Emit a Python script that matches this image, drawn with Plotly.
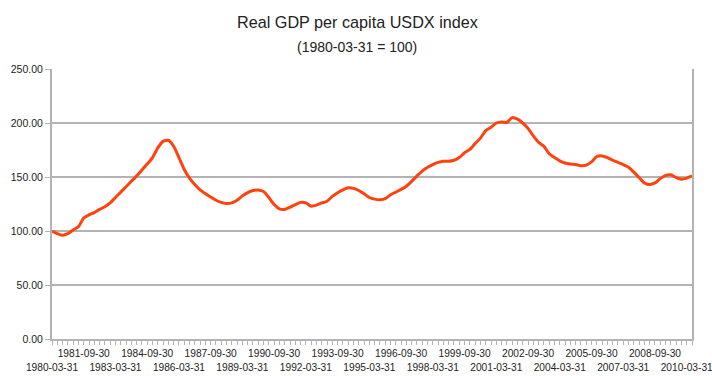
import plotly.graph_objects as go

# Quarterly categories 1980-03-31 .. 2010-06-30
quarter_ends = ["03-31", "06-30", "09-30", "12-31"]
quarters = [f"{y}-{q}" for y in range(1980, 2011) for q in quarter_ends][:122]

gdp_index = [
    100, 97.5, 96, 97.5, 101, 104, 112, 115, 117, 120,
    122.5, 126, 131, 136, 141, 146, 151, 156.5, 162, 168,
    177, 183, 184, 178.5, 168, 157, 149, 143, 138, 134.5,
    131.5, 128.5, 126.5, 125.5, 126, 128.5, 132.5, 135.5, 137.5, 138,
    136.5, 131, 124.5, 120.5, 120, 122, 124.5, 126.5, 126, 123,
    124, 126, 127.5, 132, 135.5, 138, 140, 139.5, 137.5, 134.5,
    131, 129.5, 129, 130, 133.5, 136, 138.5, 141.5, 146, 151,
    155.5, 159, 161.5, 163.5, 164.5, 164.5, 165.5, 168, 172.5, 175.5,
    181, 186, 193, 196, 200, 201, 200.5, 205, 203.5, 200,
    195, 188, 182, 178.5, 171.5, 168, 165, 163, 162, 161.5,
    160.5, 161, 164, 169, 169.5, 168, 165.5, 163.5, 161.5, 159,
    154.5, 149.5, 144.5, 143, 144.5, 148.5, 151.5, 152, 149.5, 148,
    149, 151,
]

# Every 6th quarter is labelled, alternating between two rows
tick_labels = []
for i, q in enumerate(quarters):
    if i % 6 == 0:
        tick_labels.append(("<br>" + q) if (i // 6) % 2 == 0 else q)
    else:
        tick_labels.append("")

y_ticks = [0, 50, 100, 150, 200, 250]

GRID = "#b3b3b3"
FONT = "Liberation Sans, Arial, sans-serif"
W, H = 712, 376
LEFT, RIGHT, TOP, BOTTOM = 52, 20, 69, 37
PLOT_W = W - LEFT - RIGHT
PLOT_H = H - TOP - BOTTOM
TITLE_X = (357 - LEFT) / PLOT_W

fig = go.Figure()
fig.add_trace(go.Scatter(
    x=quarters, y=gdp_index, mode="lines",
    line=dict(color="#ff420e", width=3, shape="spline", smoothing=0.6),
    hoverinfo="x+y", showlegend=False,
))

fig.update_layout(
    width=W, height=H,
    margin=dict(l=LEFT, r=RIGHT, t=TOP, b=BOTTOM, autoexpand=False),
    paper_bgcolor="white", plot_bgcolor="white",
    font=dict(family=FONT, size=10.5, color="#222"),
)
fig.add_annotation(text="Real GDP per capita USDX index", xref="paper", yref="paper",
                   x=TITLE_X, y=1 + (TOP - 22) / PLOT_H, xanchor="center", yanchor="middle",
                   showarrow=False, font=dict(family=FONT, size=16.2, color="#222"))
fig.add_annotation(text="(1980-03-31 = 100)", xref="paper", yref="paper",
                   x=TITLE_X, y=1 + (TOP - 47) / PLOT_H, xanchor="center", yanchor="middle",
                   showarrow=False, font=dict(family=FONT, size=14, color="#222"))

fig.update_xaxes(
    type="category", range=[0, len(quarters) - 1], automargin=False,
    tickmode="array", tickvals=quarters, ticktext=tick_labels,
    tickangle=0, ticks="outside", ticklen=4, tickwidth=1, tickcolor=GRID,
    showline=True, linecolor=GRID, linewidth=2,
    showgrid=False, zeroline=False,
    tickfont=dict(family=FONT, size=10.2, color="#222"),
)
fig.update_yaxes(
    range=[0, 250], automargin=False, tickmode="array", tickvals=y_ticks, tickformat=".2f",
    ticks="outside", ticklen=5, tickwidth=1, tickcolor=GRID,
    showline=True, linecolor=GRID, linewidth=2, mirror=True,
    showgrid=True, gridcolor=GRID, gridwidth=2, zeroline=False,
    tickfont=dict(family=FONT, size=10.5, color="#222"),
)

fig.write_html("out.html", config={"displayModeBar": False})

# Remove the browser's default page margin so the figure sits at (0, 0)
with open("out.html", encoding="utf-8") as f:
    html = f.read()
html = html.replace("<head>", "<head><style>html,body{margin:0;padding:0;overflow:hidden;}</style>", 1)
with open("out.html", "w", encoding="utf-8") as f:
    f.write(html)
